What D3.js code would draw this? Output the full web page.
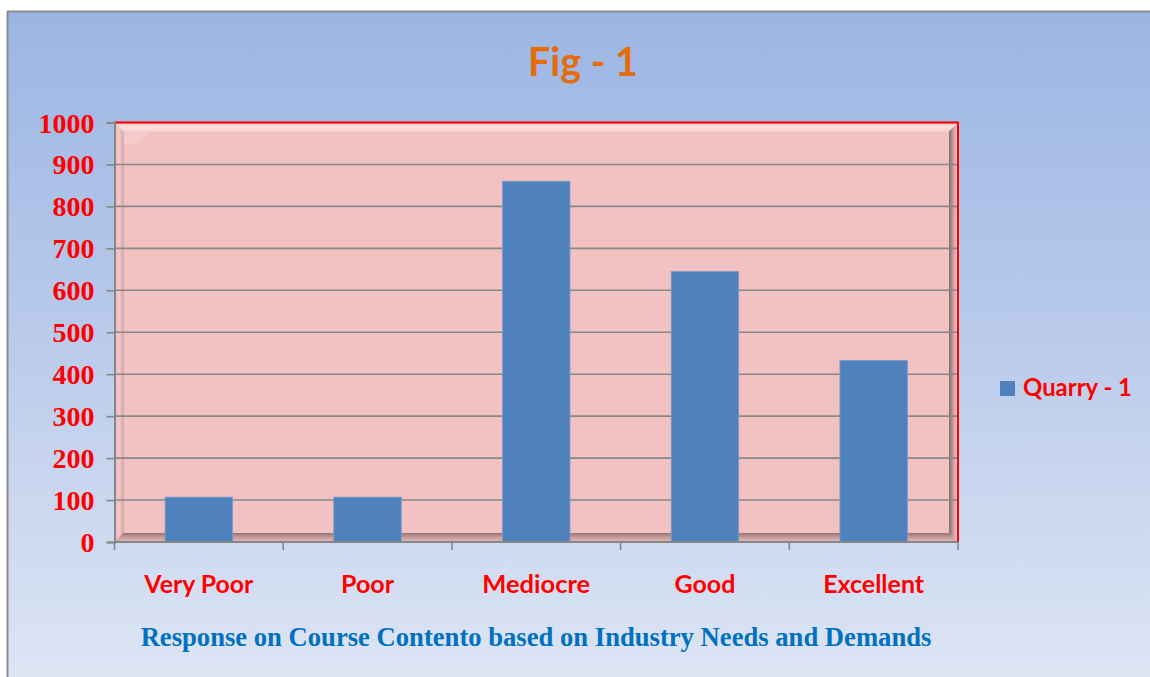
<!DOCTYPE html>
<html><head><meta charset="utf-8">
<script src="https://cdn.jsdelivr.net/npm/d3@7/dist/d3.min.js"></script>
<style>html,body{margin:0;padding:0;background:#fff;}svg{display:block;}</style>
</head><body>
<svg id="chart" width="1150" height="677"></svg>
<script>
const categories = ["Very Poor", "Poor", "Mediocre", "Good", "Excellent"];
const values = [107, 107, 860, 645, 433];
const yTicks = [0, 100, 200, 300, 400, 500, 600, 700, 800, 900, 1000];
const seriesName = "Quarry - 1";
const chartTitle = "Fig - 1";
const axisTitle = "Response on Course Contento based on Industry Needs and Demands";

const svg = d3.select("#chart");
const defs = svg.append("defs");
const W = 1150, H = 677;
const L = 114.5, T = 122.5, R = 958, B = 542;
const sans = "Lato, 'Open Sans', sans-serif";
const serif = "'Liberation Serif', 'Times New Roman', serif";

function lg(id, x1, y1, x2, y2, stops) {
  const g = defs.append("linearGradient").attr("id", id)
    .attr("x1", x1).attr("y1", y1).attr("x2", x2).attr("y2", y2);
  stops.forEach(s => g.append("stop").attr("offset", s[0]).attr("stop-color", s[1]));
}
lg("bg", 0, 0, 0, 1, [[0, "#9BB5E3"], [0.5, "#BACBEB"], [1, "#DDE5F4"]]);
lg("gTop", 0, 0, 0, 1, [[0, "#F5C9C9"], [0.45, "#FCDEDE"], [1, "#F9D5D5"]]);
lg("gLeft", 0, 0, 1, 0, [[0, "#E9B9B9"], [0.5, "#F4C8C8"], [0.85, "#E2B4B4"], [1, "#B99494"]]);
lg("gRight", 0, 0, 1, 0, [[0, "#846A6A"], [0.25, "#A88585"], [0.6, "#D9ABAB"], [1, "#F0C3C3"]]);
lg("gBottom", 0, 0, 0, 1, [[0, "#8E7272"], [0.3, "#B48F8F"], [0.7, "#D7AAAA"], [1, "#E4B6B6"]]);

// chart background
svg.append("rect").attr("x", 7).attr("y", 11.5).attr("width", W - 7).attr("height", H - 11.5)
  .attr("fill", "url(#bg)");
svg.append("line").attr("x1", 7).attr("x2", W).attr("y1", 11.5).attr("y2", 11.5)
  .attr("stroke", "#8C8C8C").attr("stroke-width", 2);
svg.append("line").attr("x1", 7.5).attr("x2", 7.5).attr("y1", 11.5).attr("y2", H)
  .attr("stroke", "#8C8C8C").attr("stroke-width", 2);

// scales
const x = d3.scaleBand().domain(categories).range([L, R]).paddingInner(0.6).paddingOuter(0.3);
const y = d3.scaleLinear().domain([0, 1000]).range([B, T]);

// plot area with bevel
const d = 9;
svg.append("rect").attr("x", L).attr("y", T).attr("width", R - L).attr("height", B - T).attr("fill", "#F2C1C1");
const pts = p => p.map(q => q.join(",")).join(" ");
const band = (p, fill) => svg.append("polygon").attr("points", pts(p)).attr("fill", fill);
band([[L, T], [R, T], [R - d, T + d], [L + d, T + d]], "url(#gTop)");
band([[L, T], [L + d, T + d], [L + d, B - d], [L, B]], "url(#gLeft)");
band([[R, T], [R, B], [R - d, B - d], [R - d, T + d]], "url(#gRight)");
band([[L, B], [L + d, B - d], [R - d, B - d], [R, B]], "url(#gBottom)");
// soft corner highlight on the top-left
svg.append("polygon").attr("points", pts([[L + d, T + d], [L + d + 26, T + d], [L + d + 16, T + d + 12], [L + d, T + d + 12]]))
  .attr("fill", "#F7D0D0").attr("opacity", 0.6);

// gridlines
svg.append("g").selectAll("line").data(yTicks.filter(v => v > 0)).join("line")
  .attr("x1", L).attr("x2", R).attr("y1", v => y(v)).attr("y2", v => y(v))
  .attr("stroke", "#878787").attr("stroke-width", 1.6);

// plot border: red top and right
svg.append("path").attr("d", `M${L},${T}H${R}V${B}`).attr("fill", "none")
  .attr("stroke", "#FF0000").attr("stroke-width", 2);

// bars
svg.append("g").selectAll("rect").data(values).join("rect")
  .attr("x", (v, i) => x(categories[i])).attr("width", x.bandwidth())
  .attr("y", v => y(v)).attr("height", v => B - y(v))
  .attr("fill", "#4F81BD").attr("stroke", "#7E9DC8").attr("stroke-width", 0.8);

// y axis
const yAxis = d3.axisLeft(y).tickValues(yTicks).tickSize(8).tickPadding(12).tickFormat(d3.format("d"));
const yg = svg.append("g").attr("transform", `translate(${L},0)`).call(yAxis);
yg.select(".domain").attr("stroke", "#878787").attr("stroke-width", 2);
yg.selectAll(".tick line").attr("stroke", "#878787").attr("stroke-width", 1.6);
yg.selectAll(".tick text").attr("fill", "#FF0000").attr("font-family", serif)
  .attr("font-weight", "bold").attr("font-size", 28).attr("dy", "0.34em");

// x axis with ticks at band boundaries
const xg = svg.append("g");
xg.append("line").attr("x1", L).attr("x2", R).attr("y1", B).attr("y2", B)
  .attr("stroke", "#878787").attr("stroke-width", 2);
const bounds = categories.map(c => x(c) - x.step() * x.paddingInner() / 2);
bounds.push(R);
bounds[0] = L;
xg.selectAll("line.tk").data(bounds).join("line").attr("class", "tk")
  .attr("x1", v => v).attr("x2", v => v).attr("y1", B).attr("y2", B + 8)
  .attr("stroke", "#878787").attr("stroke-width", 1.6);

function fit(sel, targetW, base) {
  sel.attr("font-size", base);
  const w = sel.node().getComputedTextLength();
  sel.attr("font-size", base * targetW / w);
  return sel;
}

// category labels
const catW = [109, 53, 108, 61, 101];
categories.forEach((c, i) => {
  const t = svg.append("text").attr("x", x(c) + x.bandwidth() / 2).attr("y", 593)
    .attr("text-anchor", "middle").attr("fill", "#FF0000").attr("font-family", sans)
    .attr("font-weight", "bold").text(c);
  fit(t, catW[i], 24);
});

// title
fit(svg.append("text").attr("x", 583).attr("y", 76).attr("text-anchor", "middle")
  .attr("fill", "#E46C0A").attr("font-family", sans).attr("font-weight", "bold").text(chartTitle), 110, 40);

// axis title
fit(svg.append("text").attr("x", 536).attr("y", 646).attr("text-anchor", "middle")
  .attr("fill", "#0070C0").attr("font-family", serif).attr("font-weight", "bold").text(axisTitle), 791, 24);

// legend
svg.append("rect").attr("x", 1000).attr("y", 381).attr("width", 15).attr("height", 15).attr("fill", "#4F81BD");
fit(svg.append("text").attr("x", 1023).attr("y", 396).attr("fill", "#FF0000").attr("font-family", sans)
  .attr("font-weight", "bold").text(seriesName), 109, 24);
</script>
</body></html>
